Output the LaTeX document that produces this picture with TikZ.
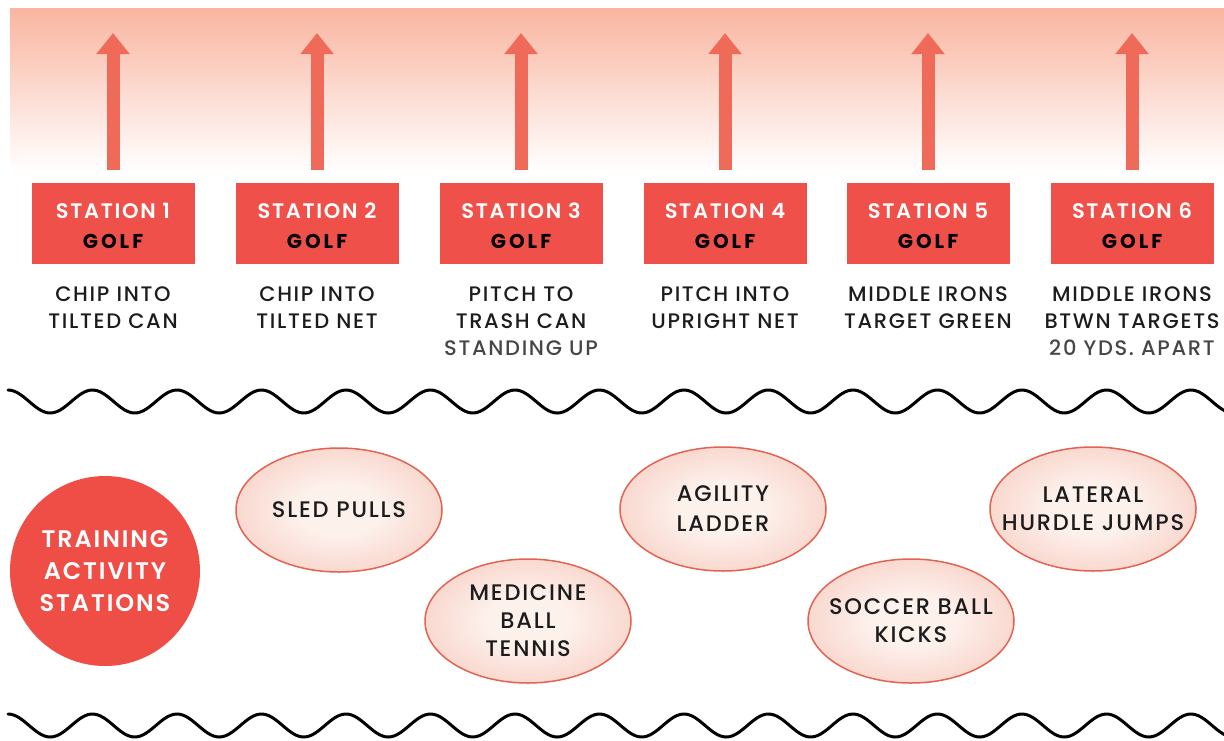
\documentclass[tikz,border=0pt]{standalone}
\usepackage{fontspec}
\setmainfont{Poppins}
\newfontfamily\medfont{Poppins Medium}[LetterSpace=8]
\newfontfamily\semifont{Poppins SemiBold}[LetterSpace=8]
\newfontfamily\golffont{Poppins Bold}[LetterSpace=15]
\usepackage{tikz}
\usetikzlibrary{arrows.meta,shapes.geometric}
\definecolor{bandtop}{RGB}{249,181,160}
\definecolor{arrowred}{RGB}{239,106,88}
\definecolor{boxred}{RGB}{239,80,73}
\definecolor{hubred}{RGB}{238,78,70}
\definecolor{eggin}{RGB}{253,241,236}
\definecolor{eggout}{RGB}{242,176,160}
\definecolor{eggline}{RGB}{228,98,82}
\definecolor{inkblack}{RGB}{28,28,28}
\definecolor{inkgray}{RGB}{70,70,70}
\pgfdeclareradialshading{eggshade}{\pgfpoint{0bp}{0bp}}{color(0bp)=(eggin); color(10bp)=(eggin); color(50bp)=(eggout)}

\begin{document}
\begin{tikzpicture}[x=1pt,y=-1pt,
    stationbox/.style={fill=boxred, minimum width=163pt, minimum height=81pt, inner sep=0pt,
        align=center, text=white, font=\semifont\fontsize{21}{30}\selectfont},
    desc/.style={anchor=north, inner sep=0pt, align=center, text=inkblack,
        font=\medfont\fontsize{21}{27}\selectfont},
    uparrow/.style={draw=arrowred, line width=13pt, -{Triangle[width=32pt,length=21pt]}},
    egg/.style={ellipse, draw=eggline, line width=1.5pt, shade, shading=eggshade,
        minimum width=206pt, minimum height=124pt, inner xsep=-30pt, inner ysep=0pt, align=center,
        text=inkblack, font=\medfont\fontsize{22.5}{28}\selectfont},
    wave/.style={line width=3pt, line cap=round}]
                                        \useasboundingbox (0,0) rectangle (1224,740);
                                        % fading band behind the arrows
                                        \shade [top color=bandtop, bottom color=white] (10,8) rectangle (1224,172);
                                        % golf stations
                                        \node [stationbox] (s1) at (113,223.5) {\strut STATION 1\\{\golffont\color{black}\fontsize{20}{30}\selectfont GOLF}};
                                        \node [stationbox] (s2) at (317,223.5) {\strut STATION 2\\{\golffont\color{black}\fontsize{20}{30}\selectfont GOLF}};
                                        \node [stationbox] (s3) at (521,223.5) {\strut STATION 3\\{\golffont\color{black}\fontsize{20}{30}\selectfont GOLF}};
                                        \node [stationbox] (s4) at (725,223.5) {\strut STATION 4\\{\golffont\color{black}\fontsize{20}{30}\selectfont GOLF}};
                                        \node [stationbox] (s5) at (928,223.5) {\strut STATION 5\\{\golffont\color{black}\fontsize{20}{30}\selectfont GOLF}};
                                        \node [stationbox] (s6) at (1132,223.5) {\strut STATION 6\\{\golffont\color{black}\fontsize{20}{30}\selectfont GOLF}};
                                        \coordinate (t1) at (113,33);
                                        \coordinate (t2) at (317,33);
                                        \coordinate (t3) at (521,33);
                                        \coordinate (t4) at (725,33);
                                        \coordinate (t5) at (928,33);
                                        \coordinate (t6) at (1132,33);
                                        \draw [uparrow] ([yshift=13pt]s1.north) -- (t1);
                                        \draw [uparrow] ([yshift=13pt]s2.north) -- (t2);
                                        \draw [uparrow] ([yshift=13pt]s3.north) -- (t3);
                                        \draw [uparrow] ([yshift=13pt]s4.north) -- (t4);
                                        \draw [uparrow] ([yshift=13pt]s5.north) -- (t5);
                                        \draw [uparrow] ([yshift=13pt]s6.north) -- (t6);
                                        \node [desc] (d1) at (113,287) {CHIP INTO\\TILTED CAN};
                                        \node [desc] (d2) at (317,287) {CHIP INTO\\TILTED NET};
                                        \node [desc] (d3) at (521,287) {PITCH TO\\TRASH CAN\\{\color{inkgray}STANDING UP}};
                                        \node [desc] (d4) at (725,287) {PITCH INTO\\UPRIGHT NET};
                                        \node [desc] (d5) at (928,287) {MIDDLE IRONS\\TARGET GREEN};
                                        \node [desc] (d6) at (1132,287) {MIDDLE IRONS\\BTWN TARGETS\\{\color{inkgray}20 YDS. APART}};
                                        % wavy dividers
                                        \draw [wave] plot[domain=8:1232, samples=400, smooth] (\x, {401.5-11.5*cos(4.2604*(\x-8))});
                                        \draw [wave] plot[domain=8:1232, samples=400, smooth] (\x, {725.5-11.5*cos(4.2604*(\x-8))});
                                        % training activities
                                        \node [circle, fill=hubred, minimum size=190pt, inner sep=0pt, align=center, text=white,
                                            font=\semifont\fontsize{24}{32}\selectfont] (hub) at (105,571) {TRAINING\\ACTIVITY\\STATIONS};
                                        \node [egg] (sled) at (339,510) {SLED PULLS};
                                        \node [egg] (medball) at (528,621) {MEDICINE\\BALL\\TENNIS};
                                        \node [egg, font=\medfont\fontsize{22.5}{30}\selectfont] (ladder) at (723,509) {AGILITY\\LADDER};
                                        \node [egg] (soccer) at (911,621) {SOCCER BALL\\KICKS};
                                        \node [egg] (hurdle) at (1093,509) {LATERAL\\HURDLE JUMPS};
                                        \end{tikzpicture}
\end{document}
